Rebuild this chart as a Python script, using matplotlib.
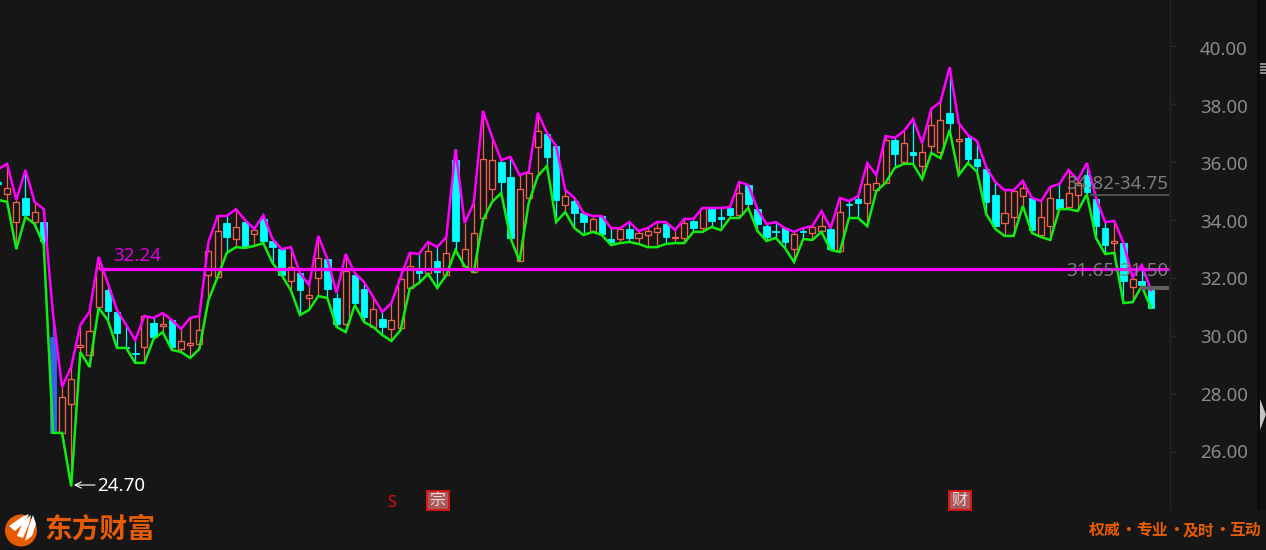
import matplotlib
matplotlib.use("Agg")
import matplotlib.pyplot as plt
from matplotlib.patches import Circle, Polygon, Rectangle
from matplotlib.transforms import ScaledTranslation

highs = [35.71,35.89,34.64,35.68,34.57,34.32,30.71,28.14,28.84,30.30,
         30.75,32.66,31.75,30.82,30.30,29.77,30.61,30.54,30.71,30.47,
         30.16,30.54,30.61,33.18,34.08,34.08,34.32,33.94,33.63,34.11,
         33.28,32.93,33.00,32.10,31.68,33.39,32.59,31.41,32.76,32.10,
         31.79,31.27,30.75,31.06,31.96,32.80,32.76,33.18,33.00,33.35,
         36.40,33.84,34.53,37.73,36.82,36.02,36.13,35.50,35.61,37.66,
         36.96,36.51,34.98,34.71,34.18,34.08,34.08,33.66,33.66,33.87,
         33.56,33.66,33.87,33.87,33.59,33.98,33.98,34.36,34.36,34.36,
         34.39,35.26,35.16,34.32,33.80,33.87,33.66,33.53,33.66,33.73,
         34.25,33.66,34.71,34.60,34.77,35.92,35.50,36.86,36.79,37.03,
         37.45,36.61,37.80,38.04,39.25,37.31,36.89,36.68,35.78,35.26,
         34.98,34.98,35.30,34.71,34.60,35.09,35.19,35.68,35.33,35.92,
         34.71,33.87,33.91,33.14,31.96,32.38,31.51]
lows = [34.64,34.57,32.93,34.05,33.80,33.07,26.55,26.55,24.70,29.36,
        28.84,30.89,30.47,29.50,29.50,28.98,28.98,29.81,30.05,29.43,
        29.36,29.15,29.46,31.16,31.96,32.80,33.00,32.97,33.04,33.14,
        32.45,32.03,31.51,30.64,30.82,31.30,31.23,30.23,30.05,30.99,
        30.40,30.23,29.95,29.74,30.12,31.55,31.75,32.07,31.58,32.03,
        32.90,32.34,32.14,33.94,34.57,34.88,33.32,32.52,34.53,35.47,
        35.82,33.87,34.22,33.66,33.42,33.53,33.42,33.07,33.14,33.18,
        33.11,33.00,33.00,33.11,33.14,33.14,33.53,33.53,33.70,33.59,
        34.01,34.01,34.36,33.56,33.21,33.32,32.97,32.48,33.28,33.25,
        33.53,32.90,32.83,34.01,34.01,33.73,34.95,35.23,35.75,35.89,
        35.89,35.36,36.27,36.09,37.07,35.50,35.92,35.61,34.15,33.63,
        33.39,33.39,34.43,33.49,33.35,33.25,34.32,34.32,34.25,34.84,
        33.32,32.76,32.80,31.06,31.09,31.65,30.89]
body_top = [35.26,35.05,34.57,34.71,34.22,33.87,29.88,27.80,28.42,29.59,
            30.09,32.27,31.51,30.75,29.54,29.32,30.61,30.37,30.33,30.47,
            29.74,29.67,30.12,32.87,33.56,33.84,33.70,33.87,33.59,33.98,
            33.21,32.93,32.31,32.10,31.34,32.62,32.59,31.23,32.17,32.03,
            31.55,30.85,30.50,30.47,31.89,32.34,32.21,32.87,32.52,32.80,
            36.02,32.93,33.49,36.06,36.02,35.96,35.43,35.02,35.57,37.03,
            36.93,36.51,34.77,34.60,34.18,33.98,34.08,33.28,33.63,33.63,
            33.49,33.56,33.66,33.80,33.34,33.84,33.91,34.36,34.32,34.03,
            34.36,34.88,35.16,34.32,33.73,33.55,33.66,33.46,33.55,33.70,
            33.73,33.63,34.22,34.49,34.67,35.19,35.23,36.72,36.72,36.61,
            36.30,36.30,37.24,37.41,37.66,36.74,36.79,36.06,35.71,34.81,
            34.18,34.95,35.05,34.71,34.05,34.71,34.67,34.88,35.23,35.50,
            34.67,33.66,33.20,33.14,31.89,31.82,31.51]
body_bottom = [35.19,34.84,33.87,34.12,33.87,33.21,26.55,26.55,27.55,29.52,
               29.25,30.92,30.78,30.02,29.50,29.28,29.53,29.88,30.26,29.53,
               29.46,29.60,29.64,32.03,31.96,33.35,33.28,33.04,33.46,33.21,
               33.00,32.03,31.82,31.51,31.23,31.93,31.55,30.33,30.33,31.06,
               30.57,30.23,30.23,30.16,30.19,31.58,32.10,32.10,32.14,32.03,
               33.21,32.34,32.14,34.01,35.02,35.26,33.32,32.52,34.71,36.48,
               36.13,34.64,34.46,34.18,33.87,33.56,33.46,33.18,33.28,33.32,
               33.32,33.42,33.53,33.35,33.30,33.32,33.66,33.66,33.91,33.99,
               34.11,34.11,34.50,33.80,33.35,33.51,33.18,32.93,33.51,33.49,
               33.56,32.93,32.87,34.45,34.53,34.53,34.98,35.23,36.23,35.96,
               36.20,35.82,36.51,36.30,37.31,36.70,36.06,35.82,34.57,33.73,
               33.84,34.05,34.77,33.59,33.42,33.73,34.32,34.39,34.81,34.91,
               33.73,33.07,33.16,31.82,31.62,31.68,30.89]
kinds = ("crrcrcbrrr" "rrccccrcrc" "rrrrrcrcrc" "ccrcrrccrc" "crcrrrcrcr"
         "crrrrccrrr" "ccrccrccrc" "rrrcrrcrcc" "crcccccrcr" "rcrccrrrcr"
         "crrrcrcccc" "rrrcrrcrrc" "ccrcrcc")

upper_line = highs
lower_line = lows
low_label = "24.70"
low_value = 24.70
level_value = 32.24
level_label = "32.24"
band_high = (34.82, 34.75)
band_low = (31.65, 31.50)
band_high_label = "34.82-34.75"
band_low_label = "31.65-31.50"
y_ticks = [26, 28, 30, 32, 34, 36, 38, 40]
y_tick_labels = ["26.00", "28.00", "30.00", "32.00", "34.00", "36.00", "38.00", "40.00"]
brand = "东方财富"
slogan_parts = ["权威", "专业", "及时", "互动"]

BG = "#161616"
RED = "#f2604e"
CYAN = "#00ffff"
BLUE = "#3366e8"
MAGENTA = "#ff00ff"
GREEN = "#11ee11"
ORANGE = "#e65c05"
CJK = ["Noto Sans CJK SC", "DejaVu Sans"]
plt.rcParams["font.family"] = ["Noto Sans", "DejaVu Sans"]

W, H = 1266, 550
fig = plt.figure(figsize=(W / 100, H / 100), dpi=100, facecolor=BG)

# overlay in pixel coordinates for window furniture
deco = fig.add_axes([0, 0, 1, 1], zorder=0)
deco.set_xlim(0, W)
deco.set_ylim(H, 0)
deco.axis("off")

ax = fig.add_axes([0, (H - 510) / H, 1170 / W, 510 / H], zorder=2)
ax.set_facecolor("none")
SPACING = 9.15
ax.set_xlim(2 / SPACING, 1172 / SPACING)
ax.set_ylim(41.58 - 0.03472 * 510, 41.58)
for s in ax.spines.values():
    s.set_visible(False)
ax.set_xticks([])
ax.set_yticks(y_ticks)
ax.set_yticklabels(y_tick_labels, fontsize=13.5, color="#858b90")
ax.yaxis.tick_right()
ax.tick_params(axis="y", length=0, pad=21.5)
offset = ScaledTranslation(0, -2.5 / 100, fig.dpi_scale_trans)
for lab in ax.get_yticklabels():
    lab.set_transform(lab.get_transform() + offset)
ax.grid(axis="y", color="#303030", linewidth=0.8, linestyle=(0, (1, 8)), zorder=0)

# candles
for i, k in enumerate(kinds):
    hi, lo, top, bot = highs[i], lows[i], body_top[i], body_bottom[i]
    if k == "r":
        ax.vlines(i, top, hi, color=RED, lw=0.9, zorder=2)
        ax.vlines(i, lo, bot, color=RED, lw=0.9, zorder=2)
        ax.bar(i, top - bot, bottom=bot, width=0.66, facecolor=BG, edgecolor=RED,
               linewidth=0.95, zorder=3)
    else:
        col = BLUE if k == "b" else CYAN
        ax.vlines(i, lo, hi, color=col, lw=0.9, zorder=2)
        ax.bar(i, top - bot, bottom=bot, width=0.72, facecolor=col, edgecolor=col,
               linewidth=0.6, zorder=3)

xs = list(range(len(kinds)))
ax.plot(xs, upper_line, color=MAGENTA, lw=1.8, zorder=5, solid_joinstyle="miter")
ax.plot(xs, lower_line, color=GREEN, lw=1.8, zorder=5, solid_joinstyle="miter")

# resistance level
ax.plot([11, 128], [level_value, level_value], color=MAGENTA, lw=2.3, zorder=6,
        solid_capstyle="butt")
ax.text(12.6, level_value + 0.14, level_label, color="#e000e0", fontsize=13.5,
        va="bottom", ha="left", zorder=7)

# price bands on the right
ax.fill_between([119.3, 128], band_high[1] + 0.03, band_high[0] + 0.03, color="#505050", lw=0, zorder=6)
ax.fill_between([124.8, 128], band_low[1], band_low[0], color="#606060", lw=0, zorder=6)
ax.text(127.9, band_high[0] + 0.37, band_high_label, color="#7d7d7d", fontsize=13.5,
        ha="right", va="center", zorder=7)
ax.text(127.9, band_low[0] + 0.53, band_low_label, color="#7d7d7d", fontsize=13.5,
        ha="right", va="center", zorder=7)

# lowest-point marker
ax.annotate("", xy=(8.3, low_value + 0.04), xytext=(10.6, low_value + 0.04),
            arrowprops=dict(arrowstyle="->", color="white", lw=0.8, mutation_scale=11,
                            shrinkA=0, shrinkB=0), zorder=7)
ax.text(10.85, low_value + 0.01, low_label, color="white", fontsize=13.5, ha="left",
        va="center", zorder=7)

# window furniture
deco.plot([1170, 1170], [0, 510], color="#262626", lw=1)
deco.add_patch(Rectangle((1257, 0), 9, 510, facecolor="#101010", lw=0))
deco.plot([1257.5, 1257.5], [0, 510], color="#080808", lw=1)
deco.scatter([1260.5 + 2.3 * c for c in range(3) for _ in range(4)],
             [64 + 3.0 * r for _ in range(3) for r in range(4)],
             s=1.6, marker="s", color="#8a8a8a", lw=0)
deco.add_patch(Polygon([[1260, 399], [1260, 430], [1266, 414.5]], facecolor="#c4c4c4", lw=0))
for yy in range(45, 470, 58):
    deco.plot([1171, 1175], [yy + 0.5, yy + 0.5], color="#2a2a2a", lw=1)

# event marks
deco.add_patch(Rectangle((426.5, 490.5), 22, 19.5, facecolor="#a85a5a", edgecolor="#d81414", lw=1.4))
deco.text(437.5, 500.5, "宗", color="#f0d8d8", fontsize=11.5, ha="center", va="center", family=CJK)
deco.add_patch(Rectangle((948.5, 490.5), 22, 19.5, facecolor="#a85a5a", edgecolor="#d81414", lw=1.4))
deco.text(959.5, 500.5, "财", color="#f0d8d8", fontsize=11.5, ha="center", va="center", family=CJK)
deco.text(391.5, 503, "S", color="#ee0808", fontsize=11.5, fontweight="bold", ha="center", va="center")

# logo
deco.add_patch(Circle((21, 530.5), 16, facecolor=ORANGE, lw=0))
for pts in ([[9, 526], [22, 517], [29, 514], [24, 523], [15, 531]],
            [[17, 536], [23, 522], [31, 515], [29, 524], [23, 538]],
            [[25, 541], [29, 526], [33, 515], [36, 524], [32, 536]]):
    deco.add_patch(Polygon(pts, facecolor="white", lw=0))
deco.text(44.5, 530, brand, color=ORANGE, fontsize=20, fontweight="bold", ha="left", va="center", family=CJK)
for part, px in zip(slogan_parts, [1089, 1136, 1183, 1229]):
    deco.text(px, 530, part, color=ORANGE, fontsize=11.4, fontweight="bold", ha="left", va="center", family=CJK)
for px in [1128.5, 1175.5, 1221.5]:
    deco.text(px, 530, "·", color=ORANGE, fontsize=11.4, fontweight="bold", ha="center", va="center", family=CJK)

fig.savefig("out.png", dpi=100, facecolor=BG)
